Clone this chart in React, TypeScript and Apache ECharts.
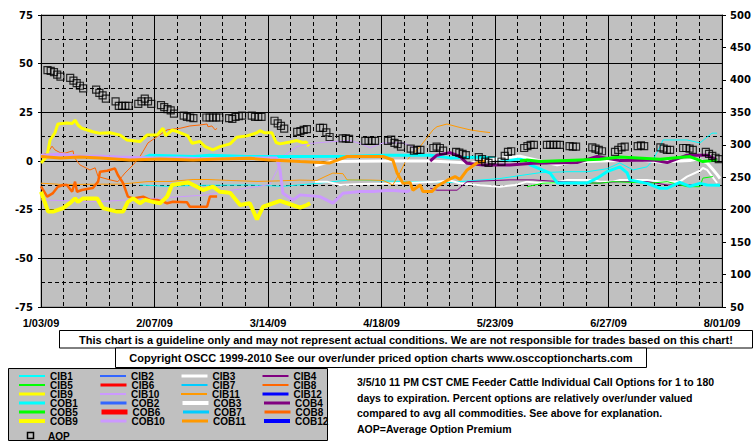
import React, { useEffect, useRef } from 'react';
import * as echarts from 'echarts';

// x = calendar days after 1/03/09 ; left axis = percent ; right axis = AOP
const dateLabels = ['1/03/09', '2/07/09', '3/14/09', '4/18/09', '5/23/09', '6/27/09', '8/01/09'];

const aopDays = [2, 3, 4, 5, 6, 9, 10, 11, 12, 13, 17, 18, 19, 20, 23, 24, 25, 26, 27, 30, 31, 32, 33, 34, 37, 38, 39, 40, 41, 44, 45, 46, 47, 51, 52, 53, 54, 55, 58, 59, 60, 61, 62, 65, 66, 67, 68, 72, 73, 74, 75, 79, 80, 81, 82, 86, 87, 88, 89, 93, 94, 95, 100, 101, 102, 103, 107, 108, 109, 110, 111, 114, 115, 116, 117, 121, 122, 123, 124, 128, 129, 130, 131, 135, 136, 137, 138, 139, 142, 143, 144, 145, 149, 150, 151, 152, 156, 157, 158, 159, 160, 163, 164, 165, 170, 171, 172, 173, 177, 178, 179, 180, 184, 185, 186, 191, 192, 193, 194, 198, 199, 200, 201, 205, 206, 207, 208, 209];
const aopValues = [415, 414, 412, 408, 405, 403, 399, 395, 391, 387, 385, 380, 376, 371, 367, 360, 360, 360, 360, 363, 367, 371, 367, 363, 361, 358, 355, 353, 348, 345, 343, 342, 341, 342, 342, 342, 342, 342, 341, 340, 343, 344, 345, 345, 343, 343, 343, 337, 333, 329, 325, 320, 321, 323, 324, 326, 326, 319, 312, 310, 310, 309, 306, 306, 306, 306, 306, 308, 303, 301, 297, 294, 291, 292, 292, 295, 297, 295, 291, 289, 288, 286, 284, 281, 278, 274, 272, 276, 274, 283, 289, 290, 295, 298, 300, 300, 300, 300, 300, 300, 300, 298, 297, 297, 296, 294, 292, 290, 289, 292, 296, 297, 298, 299, 298, 296, 294, 292, 292, 295, 295, 294, 292, 289, 286, 283, 280, 278];

const cib1 = [[30.5, -12.3], [38.9, -13], [49, -12.5], [64.4, -12.3], [74.6, -13], [85.1, -11.5], [95.3, -9.7], [110.7, -10.5], [126.1, -11], [141.5, -9], [153.9, -6], [162.2, -5.5], [168.4, -5.5], [174.5, -4], [178.5, -1], [182.6, -4.6], [186.9, -3], [188.7, 0.5], [190.9, 7.4], [191.8, 10.8], [199.2, 10.8], [203.2, 9.3], [206.9, 14.3], [208.5, 14.3]];
const cib3 = [[84.5, -10.6], [88.2, -10.6], [92.2, -12.3], [98.4, -11.8], [107.6, -11.5], [122.1, -10.6], [126.1, -10], [129.2, -11.4], [135.4, -12.5], [141.5, -13.2], [146.2, -12.3], [149.9, -10.6], [153.9, -11.3], [157.9, -11.3], [162.2, -9.7], [170.2, -9.7], [172.4, -10.6], [176.4, -10.6], [178.5, -9.7], [186.9, -9.7], [190.9, -10.5], [197, -10.6], [199.2, -8], [203.2, -5], [204.1, -3.6], [205.4, -4.6], [208.5, -11.3]];
const cib4 = [[120, -14], [122.1, -15], [128.3, -15], [131.4, -10.6], [144.6, -9.7], [151.7, -9.7], [160, -10.6], [171.5, -11.4], [178.5, -10.6], [186.9, -10.6], [193.1, -12.3], [199.2, -12.3], [203.2, -12]];
const cib5 = [[149.9, -13.2], [154.8, -11.4], [162.2, -11], [172.4, -11.4], [176.4, -10.6], [187.8, -11.4], [193.1, -10.6], [199.2, -13.2], [203.2, -13.2], [204.1, -8.8], [207.2, -8]];
const cib8 = [[0, 3], [1.9, 4], [3.4, 7.6], [4.3, 5.7], [5.9, 4.3], [7.4, 4], [8.9, 4.8], [9.9, 5.2], [10.2, 2], [12, -2], [15.1, -4.6], [16.7, -3.5], [17.6, -8], [21.3, -9.7], [23.7, -10.6], [25, -8], [25.9, -6.2], [28.4, -2], [30.5, 2.3], [31.5, 5], [33, 9.3], [35.8, 12.5], [38.9, 16], [42.9, 16.8], [45.9, 18], [49, 18.5], [51.2, 19], [51.5, 17.6], [52.7, 18], [53.7, 16], [54.3, 16.8]];
const cib9 = [[0, -1], [1.8, 2.3], [2.8, 10.8], [4.3, 14.5], [5.2, 19], [8, 19.5], [9.6, 19.3], [10.5, 21], [11.4, 18.5], [12.6, 16.8], [16, 15], [18.2, 14.2], [21.3, 14.5], [24.4, 13.3], [26.5, 10.8], [30.5, 10], [32.7, 13.3], [35.8, 13.3], [37.6, 16.8], [38.5, 13], [40.4, 15.9], [42.2, 15], [45.3, 12.9], [46.6, 9.1], [49, 10], [50.6, 7.4], [53, 5.7], [55.2, 7.4], [58.3, 8.8], [60.4, 12.2], [63.5, 12.9], [66.6, 14.5], [67.5, 15.6], [69, 14.5], [71.2, 14.5], [72.5, 9.5], [73.7, 8.8], [76.8, 9.8], [78.9, 10.5], [80.8, 9.5], [81.7, 9.8], [82.6, 7.7]];
const cib10 = [[0, -20], [18.2, -20.9], [30.5, -19.6], [38.9, -18.8], [51.2, -17.4], [59.2, -14.9], [66.6, -13.2], [70.6, -12], [72.7, -5], [74.6, 2.3], [76.8, 5], [78.9, 7.4], [83, 9], [90, 10], [95.3, 10.5], [98.4, 9], [101.5, 6.8], [105.5, 9.3], [111.6, 9.3], [114.7, 7.4], [115.3, 2.3]];
const cib11 = [[0, -11.4], [5.9, -12], [12, -12], [18.2, -11.9], [24.4, -11.9], [32.7, -10.6], [39.8, -10.5], [46.9, -9.5], [51.2, -9.5], [58.3, -10], [66.6, -10.5], [73.7, -10.2], [79.9, -9.8], [85.1, -10], [87.6, -8], [90, -6.2], [93.1, -6.5], [94.4, -9.7], [101.5, -9.8], [105.5, -10], [108.5, -12.3], [110.7, -6], [112.2, -1], [113.8, 2.3], [116.9, 7.4], [120.9, 16], [122.1, 17.6], [125.2, 19], [128.3, 17.6], [132.3, 16], [135.4, 15.2], [138.5, 14.6]];
const cob1 = [[30.5, 1], [33.6, 3], [46.9, 2.3], [52.1, 3], [63.5, 2.3], [77.7, 2.3], [95.3, 2.5], [105.5, 3], [120, 3], [126.1, 1.6], [136.3, 2], [144.6, 0.5], [149.9, 1.5], [150.8, -2], [157, -6.2], [159.2, -11.3], [168.4, -11.3], [171.5, -8.8], [174.5, -5.5], [178.5, -3], [180.7, -6], [181.6, -9.7], [186.9, -11.5], [190.9, -14], [193.1, -14], [197, -11], [200.1, -13], [203.2, -11.5], [205.4, -12.3], [209.4, -12.5]];
const cob3 = [[84.5, -2.5], [89.1, -0.3], [106.2, 0], [120, 0], [132.3, -1], [141.5, 1.4], [147.7, 2.5], [153.9, 0], [159.2, -2], [164.1, -0.5], [172.4, 0], [184.7, 0.5], [190.9, -0.5], [197, 0], [203.2, 0.5], [205.4, -1], [207, -4], [208.5, -7], [209.4, -9]];
const cob4 = [[120, 0], [122.1, 3], [126.1, 4.3], [129.2, 2.3], [131.4, -1.2], [136.3, -2], [144.6, -2], [151.7, -1.2], [165.3, -0.8], [171.5, 2.3], [178.5, 0.2], [188.7, 0.5], [193.1, -0.8], [199.2, 3], [205.4, 3], [208.5, 0.5]];
const cob5 = [[147.7, 0], [149.9, 0.5], [153.9, -0.3], [172.4, 0.9], [178.5, 2], [190.9, 0.9], [200.1, 2.3], [204.1, -0.3], [208.5, 0.5]];
const cob8 = [[0, -13], [1.9, -18.3], [3.7, -16.5], [5.2, -13.2], [6.8, -12.3], [8, -12.3], [9.6, -15.8], [10.5, -10.6], [11.1, -15.8], [12.6, -14.9], [14.2, -14.4], [16, -13.9], [17.6, -10.6], [18.2, -5.5], [20.4, -5], [22.8, -3.8], [23.7, -7.2], [25.3, -11.3], [26.8, -18.3], [28.4, -19.2], [31.5, -18.3], [33.6, -20], [35.8, -20], [37.6, -20.9], [38.9, -21.7], [40.7, -20.9], [45, -21.2], [45.9, -23.5], [51.2, -23.5], [52.1, -18.3], [54.3, -18.3]];
const cob9 = [[0, -15.8], [2.2, -26], [3.7, -26], [6.8, -24.2], [8.9, -21.7], [10.5, -19.2], [11.4, -21], [13, -19.2], [17.3, -19.2], [19.1, -24.2], [23.4, -26], [25.3, -26], [26.8, -21], [28.4, -19.2], [30.5, -21.7], [32.1, -20], [34.5, -21], [36.7, -21.7], [38.9, -18.3], [40.4, -12.3], [45.3, -11], [48.1, -13.2], [50, -14.9], [53, -13.2], [55.2, -15.8], [58.3, -16.3], [61.4, -22.6], [64.4, -21.7], [66.6, -30], [68.5, -23.5], [73.7, -20.5], [75.9, -21.7], [79.9, -24], [82, -22.6], [83, -21.7]];
const cob10 = [[0, 3], [5.9, 3.5], [12, 2.5], [18.2, 2.5], [24.4, 2], [33.6, 1.5], [42.9, 1.5], [52.1, 1], [61.4, 1.5], [69, 1.5], [72.7, 1.5], [73.7, -4.6], [74.6, -16.6], [77.7, -20], [79.9, -17.4], [86, -18.3], [90, -21.6], [93.1, -16.6], [98.4, -15.7], [102.4, -15.7], [107.6, -15], [112.9, -15.7], [113.8, -15]];
const cob11 = [[0, 2.3], [5.9, 1.5], [12, 2], [18.2, 1.5], [27.4, 0.5], [36.7, 1], [46.9, 0.5], [55.2, 1], [64.4, 1.4], [70.6, 0.5], [79.9, -0.3], [89.1, -1], [94.4, 2.3], [105.5, 2.3], [108.5, 0.5], [109.8, -6.2], [111.6, -11.4], [113.8, -11], [114.7, -15], [116.9, -12.3], [117.8, -15.7], [120.6, -15.7], [122.1, -13], [125.2, -10], [127.7, -8], [129.2, -9.5], [131.4, -4.6], [134.4, -1], [136.9, 0]];
const empty: number[][] = [];

const seriesNames = ['CIB1', 'CIB2', 'CIB3', 'CIB4', 'CIB5', 'CIB6', 'CIB7', 'CIB8', 'CIB9', 'CIB10', 'CIB11', 'CIB12',
  'COB1', 'COB2', 'COB3', 'COB4', 'COB5', 'COB6', 'COB7', 'COB8', 'COB9', 'COB10', 'COB11', 'COB12'];
const seriesData = [cib1, empty, cib3, cib4, cib5, empty, empty, cib8, cib9, cib10, cib11, empty,
  cob1, empty, cob3, cob4, cob5, empty, empty, cob8, cob9, cob10, cob11, empty];
const palette = ['#00FFFF', '#3366FF', '#FFFFFF', '#800080', '#00FF00', '#FF0000', '#00CCFF', '#FF6600', '#FFFF00', '#CC99FF', '#FF9900', '#0000FF'];
const cibWidths = [1, 1, 2, 1, 1, 2, 1, 1, 3, 1, 1, 2];
const cobWidths = [3, 3, 3, 3, 3, 4, 3, 2.5, 4, 3, 3, 3];
const legendCibWidths = [2, 2, 3, 2, 2, 3, 2, 2, 3, 2, 2, 3];
const legendCobWidths = [3, 3, 4, 3, 3, 5, 3, 3, 4, 3, 3, 4];

const disclaimer = 'This chart is a guideline only and may not represent actual conditions. We are not responsible for trades based on this chart!';
const copyright = 'Copyright OSCC 1999-2010 See our over/under priced option charts www.osccoptioncharts.com';
const notes = [
  '3/5/10 11 PM CST CME Feeder Cattle Individual Call Options for 1 to 180',
  'days to expiration. Percent options are relatively over/under valued',
  'compared to avg all commodities. See above for explanation.',
  'AOP=Average Option Premium',
];

const BOLD_AXIS = { fontFamily: 'DejaVu Sans', fontWeight: 'bold' as const, fontSize: 10, color: '#000' };
const TXT = 'Liberation Sans, Arial, sans-serif';

export default function App() {
  const ref = useRef<HTMLDivElement>(null);
  useEffect(() => {
    if (!ref.current) return;
    const chart = echarts.init(ref.current, null, { renderer: 'svg' });
    const lineSeries = seriesNames.map((name, i) => {
      const k = i % 12;
      const isCob = i >= 12;
      return {
        name,
        type: 'line',
        xAxisIndex: 0,
        yAxisIndex: 1,
        data: seriesData[i],
        symbol: 'none',
        lineStyle: { color: palette[k], width: isCob ? cobWidths[k] : cibWidths[k] },
        itemStyle: { color: palette[k] },
        z: isCob ? 3 : 2,
      };
    });
    const option: any = {
      animation: false,
      backgroundColor: '#FFFFFF',
      grid: {
        left: 41, right: 33, top: 15, bottom: 139,
        show: true, backgroundColor: '#C0C0C0', borderColor: '#808080', borderWidth: 1,
      },
      xAxis: [
        {
          type: 'value', min: 0, max: 210, interval: 7, position: 'bottom',
          axisLine: { show: false }, axisTick: { show: false }, axisLabel: { show: false },
          splitLine: { show: true, lineStyle: { color: '#000', width: 1, type: [4, 3] } },
        },
        {
          type: 'value', min: 0, max: 210, interval: 35, position: 'bottom',
          axisLine: { show: false }, axisTick: { show: false },
          axisLabel: {
            show: true, margin: 10, fontFamily: TXT, fontWeight: 'bold', fontSize: 11, color: '#000',
            formatter: (v: number) => dateLabels[Math.round(v / 35)] ?? '',
          },
          splitLine: { show: true, lineStyle: { color: '#000', width: 1, type: 'solid' } },
        },
      ],
      yAxis: [
        {
          type: 'value', min: -75, max: 75, interval: 12.5, position: 'left',
          axisLine: { show: false }, axisTick: { show: false }, axisLabel: { show: false },
          splitLine: { show: true, lineStyle: { color: '#000', width: 1, type: [4, 3] } },
        },
        {
          type: 'value', min: -75, max: 75, interval: 25, position: 'left',
          axisLine: { show: true, lineStyle: { color: '#000', width: 1 } },
          axisTick: { show: true, length: 3, lineStyle: { color: '#000' } },
          axisLabel: { ...BOLD_AXIS, margin: 8 },
          splitLine: { show: true, lineStyle: { color: '#000', width: 1, type: 'solid' } },
        },
        {
          type: 'value', min: 50, max: 500, interval: 50, position: 'right',
          axisLine: { show: true, lineStyle: { color: '#000', width: 1 } },
          axisTick: { show: true, length: 4, lineStyle: { color: '#000' } },
          axisLabel: { ...BOLD_AXIS, margin: 8 },
          splitLine: { show: false },
        },
      ],
      legend: {
        left: 17, top: 371, width: 330, orient: 'horizontal', padding: 0,
        itemWidth: 26, itemHeight: 10, itemGap: -1, selectedMode: false,
        itemStyle: { opacity: 0, borderWidth: 0 },
        textStyle: { fontFamily: TXT, fontWeight: 'bold', fontSize: 10, color: '#000', width: 50, lineHeight: 10 },
        data: seriesNames.map((name, i) => ({
          name,
          itemStyle: { opacity: 0, borderWidth: 0 },
          lineStyle: { width: i >= 12 ? legendCobWidths[i % 12] : legendCibWidths[i % 12] },
        })),
      },
      graphic: [
        {
          type: 'rect', z: 1, shape: { x: 8.5, y: 368.5, width: 319, height: 72 },
          style: { fill: '#C0C0C0', stroke: '#000', lineWidth: 1 },
        },
        {
          type: 'rect', z: 5, shape: { x: 27.5, y: 432.5, width: 6, height: 6 },
          style: { fill: 'none', stroke: '#000', lineWidth: 1.5 },
        },
        {
          type: 'text', z: 5, x: 48, y: 436,
          style: { text: 'AOP', font: `bold 10px ${TXT}`, fill: '#000', verticalAlign: 'middle' },
        },
        {
          type: 'rect', z: 5, shape: { x: 59.5, y: 330.5, width: 693, height: 17.5 },
          style: { fill: '#FFFFFF', stroke: '#000', lineWidth: 1 },
        },
        {
          type: 'text', z: 6, x: 406, y: 339.5,
          style: { text: disclaimer, font: `bold 11px ${TXT}`, fill: '#000', align: 'center', verticalAlign: 'middle' },
        },
        {
          type: 'rect', z: 5, shape: { x: 115.5, y: 348, width: 531, height: 19.5 },
          style: { fill: '#FFFFFF', stroke: '#000', lineWidth: 1 },
        },
        {
          type: 'text', z: 6, x: 381, y: 358,
          style: { text: copyright, font: `bold 11px ${TXT}`, fill: '#000', align: 'center', verticalAlign: 'middle' },
        },
        ...notes.map((t, i) => ({
          type: 'text', z: 6, x: 357, y: 382 + i * 15.5,
          style: { text: t, font: `bold 10.5px ${TXT}`, fill: '#000', verticalAlign: 'middle' },
        })),
      ],
      series: [
        ...lineSeries,
        {
          name: 'AOP',
          type: 'scatter',
          xAxisIndex: 0,
          yAxisIndex: 2,
          data: aopDays.map((d, i) => [d, aopValues[i]]),
          symbol: 'rect',
          symbolSize: 7,
          itemStyle: { color: 'rgba(0,0,0,0)', borderColor: '#000', borderWidth: 1.2 },
          z: 5,
        },
      ],
    };
    chart.setOption(option);
    return () => chart.dispose();
  }, []);
  return <div ref={ref} style={{ position: 'fixed', left: 0, top: 0, width: 755, height: 446 }} />;
}
